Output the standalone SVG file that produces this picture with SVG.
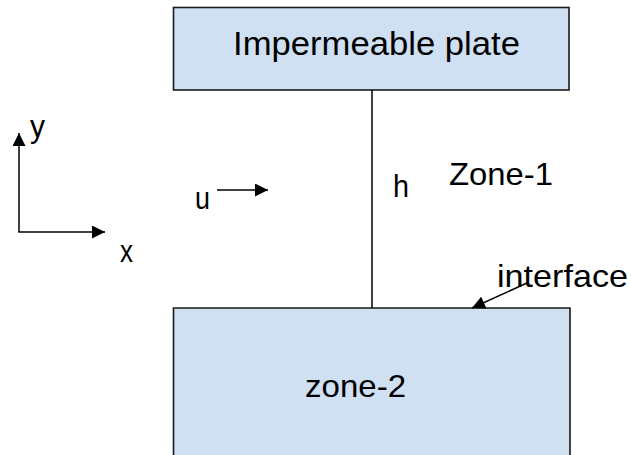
<svg xmlns="http://www.w3.org/2000/svg" width="631" height="455" viewBox="0 0 631 455">
<style>
.box{fill:#cfe0f2;stroke:#1a1a1a;stroke-width:1.6}
.ln{stroke:#000;stroke-width:1.5;fill:none}
.t{font-family:"Liberation Sans",Arial,sans-serif;fill:#000}
</style>
<defs>
<marker id="ahb" viewBox="0 0 10 10" refX="10" refY="5" markerWidth="15" markerHeight="13" markerUnits="userSpaceOnUse" orient="auto">
<path d="M0,0 L10,5 L0,10 Z" fill="#000"/>
</marker>
</defs>
<g id="plate">
<rect class="box" x="173.5" y="7.5" width="395.5" height="82.5"/>
<text class="t" x="376.5" y="55" font-size="33" text-anchor="middle" textLength="287" lengthAdjust="spacingAndGlyphs">Impermeable plate</text>
</g>
<g id="zone2">
<path class="box" d="M173.5,460 L173.5,308 L570,308 L570,460"/>
<text class="t" x="355.5" y="397" font-size="32" text-anchor="middle" textLength="101" lengthAdjust="spacingAndGlyphs">zone-2</text>
</g>
<g id="labels">
<text class="t" x="449" y="185" font-size="32" textLength="104" lengthAdjust="spacingAndGlyphs">Zone-1</text>
<text class="t" x="393" y="197" font-size="32" textLength="16" lengthAdjust="spacingAndGlyphs">h</text>
<text class="t" x="497" y="287" font-size="32" textLength="131" lengthAdjust="spacingAndGlyphs">interface</text>
<text class="t" x="30" y="137" font-size="32" textLength="15" lengthAdjust="spacingAndGlyphs">y</text>
<text class="t" x="120" y="262" font-size="32" textLength="13" lengthAdjust="spacingAndGlyphs">x</text>
<text class="t" x="195" y="209" font-size="32" textLength="15" lengthAdjust="spacingAndGlyphs">u</text>
</g>
<g id="connectors">
<line class="ln" x1="372" y1="90" x2="372" y2="308"/>
<line class="ln" x1="19" y1="232" x2="19" y2="133" marker-end="url(#ahb)"/>
<line class="ln" x1="18.3" y1="232" x2="105" y2="232" marker-end="url(#ahb)"/>
<line class="ln" x1="217" y1="190" x2="268" y2="190" marker-end="url(#ahb)"/>
<line class="ln" x1="527" y1="283" x2="472" y2="308" marker-end="url(#ahb)"/>
</g>
</svg>
